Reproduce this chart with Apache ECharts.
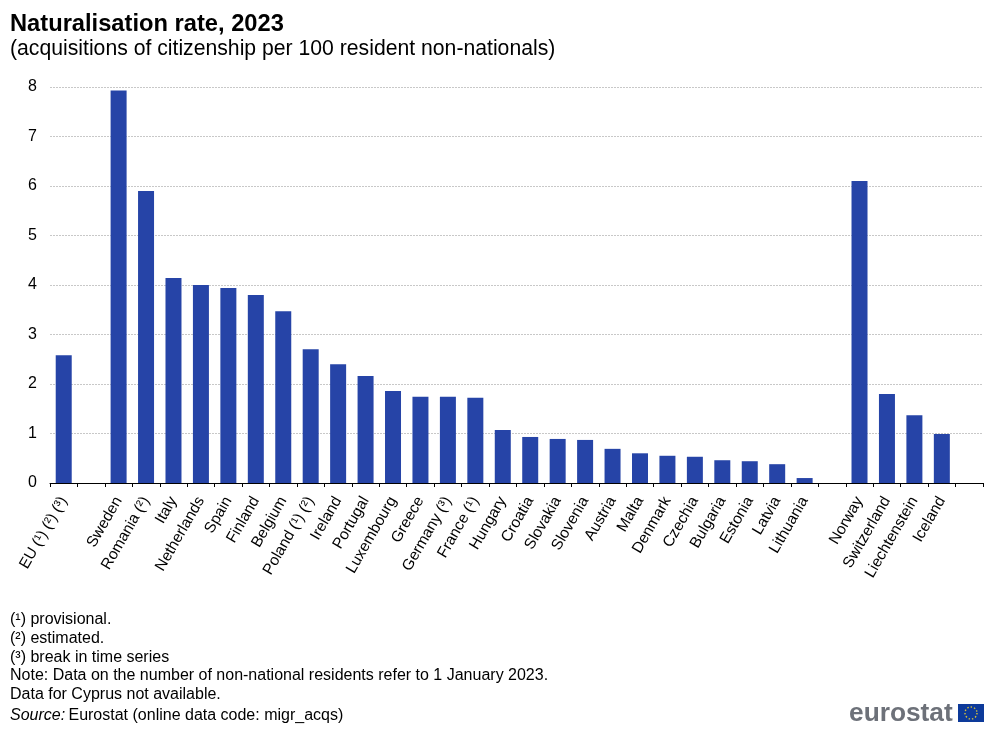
<!DOCTYPE html>
<html><head><meta charset="utf-8">
<style>html,body{margin:0;padding:0;background:#fff}#c{width:1000px;height:731px}</style>
<script src="https://cdn.jsdelivr.net/npm/echarts@6/dist/echarts.min.js"></script>
</head><body><div id="c"></div>
<script>
const categories = ["EU (¹) (²) (³)","","Sweden","Romania (²)","Italy","Netherlands","Spain","Finland","Belgium","Poland (¹) (²)","Ireland","Portugal","Luxembourg","Greece","Germany (³)","France (¹)","Hungary","Croatia","Slovakia","Slovenia","Austria","Malta","Denmark","Czechia","Bulgaria","Estonia","Latvia","Lithuania","","Norway","Switzerland","Liechtenstein","Iceland",""];
const rates = [2.58,null,7.93,5.9,4.14,4.0,3.94,3.8,3.47,2.7,2.4,2.16,1.86,1.74,1.74,1.72,1.07,0.93,0.89,0.87,0.69,0.6,0.55,0.53,0.46,0.44,0.38,0.1,null,6.1,1.8,1.37,0.99,null];
const yTicks = {min:0,max:8,interval:1};
const notes = ["(¹) provisional.","(²) estimated.","(³) break in time series","Note: Data on the number of non-national residents refer to 1 January 2023.","Data for Cyprus not available."];
const FONT = '"Liberation Sans", Arial, sans-serif';
const noteText = notes.map((t,i)=>({type:'text',left:10,top:612+i*18.6,style:{text:t,font:'16px '+FONT,fill:'#000'}}));
const chart = echarts.init(document.getElementById('c'),null,{renderer:'canvas'});
chart.setOption({
  animation:false,
  backgroundColor:'#fff',
  grid:{left:50,right:17,top:87,bottom:248,containLabel:false},
  xAxis:{type:'category',data:categories,boundaryGap:true,
    axisLine:{lineStyle:{color:'#000',width:1}},
    axisTick:{show:true,alignWithLabel:false,interval:0,length:4,lineStyle:{color:'#000'}},
    axisLabel:{interval:0,rotate:60,fontFamily:FONT,fontSize:15.4,color:'#000',margin:15,align:'right',verticalAlign:'middle'}},
  yAxis:{type:'value',min:yTicks.min,max:yTicks.max,interval:yTicks.interval,
    axisLine:{show:false},axisTick:{show:false},
    splitLine:{lineStyle:{color:'#c8c8c8',type:[2,1],width:1}},
    axisLabel:{fontFamily:FONT,fontSize:16,color:'#000',margin:13,padding:[3,0,0,0]}},
  series:[{type:'bar',data:rates,barWidth:16,itemStyle:{color:'#2644A7'}}],
  graphic:[
    {type:'text',left:10,top:12,style:{text:'Naturalisation rate, 2023',font:'bold 23.7px '+FONT,fill:'#000'}},
    {type:'text',left:10,top:39,style:{text:'(acquisitions of citizenship per 100 resident non-nationals)',font:'21.2px '+FONT,fill:'#000'}},
    ...noteText,
    {type:'text',left:10,top:708,style:{rich:{i:{font:'italic 16px '+FONT,fill:'#000'},n:{font:'16px '+FONT,fill:'#000'}},text:'{i|Source:} {n|Eurostat (online data code: migr_acqs)}'}},
    {type:'text',left:849,top:701,style:{text:'eurostat',font:'bold 26.3px '+FONT,fill:'#6d7179'}},
    {type:'group',left:958,top:704,children:[
      {type:'rect',shape:{x:0,y:0,width:26,height:18},style:{fill:'#0d3a9a'}},
      {type:'circle',shape:{cx:13,cy:9,r:6},style:{fill:'none',stroke:'#d8c23a',lineWidth:1.4,lineDash:[1.4,2]}}
    ]}
  ]
});
</script></body></html>
